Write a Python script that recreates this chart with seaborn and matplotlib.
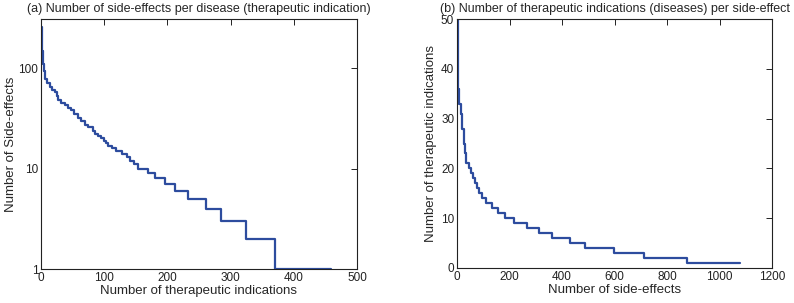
import numpy as np
import pandas as pd
import matplotlib
matplotlib.use('Agg')
import matplotlib.pyplot as plt
import seaborn as sns

# (a) side-effects per disease, rank-ordered (step starts)
left_rank = [1, 2, 3, 4, 6, 9, 14, 18, 22, 25, 27, 32, 38, 43, 48, 53, 58, 63, 69, 75, 82, 86, 90, 95,
             100, 103, 106, 112, 119, 128, 136, 141, 147, 153, 170, 180, 196, 212, 233, 261, 285, 324, 371, 459]
left_count = [260, 150, 110, 95, 79, 72, 65, 61, 58, 53, 48, 45, 43, 40, 38, 35, 32, 30, 27, 26, 24, 22, 21, 20,
              19, 18, 17, 16, 15, 14, 13, 12, 11, 10, 9, 8, 7, 6, 5, 4, 3, 2, 1, 1]

# (b) diseases per side-effect, rank-ordered (step starts)
right_rank = [1, 2, 4, 8, 14, 20, 27, 32, 36, 45, 52, 60, 68, 75, 84, 95, 112, 135, 155, 181,
              219, 266, 311, 361, 430, 487, 599, 713, 877, 1077]
right_count = [50, 45, 36, 33, 31, 28, 25, 23, 21, 20, 19, 18, 17, 16, 15, 14, 13, 12, 11, 10,
               9, 8, 7, 6, 5, 4, 3, 2, 1, 1]

dfa = pd.DataFrame({'rank': left_rank, 'n': left_count})
dfb = pd.DataFrame({'rank': right_rank, 'n': right_count})

sns.set_style('white')
plt.rcParams['font.family'] = ['Liberation Sans', 'DejaVu Sans']
plt.rcParams.update({'font.size': 8})
col = '#2d4c9e'

fig = plt.figure(figsize=(7.94, 3.03), dpi=100)
ax1 = fig.add_axes([41/794, 1-269/303, 316/794, 250/303])
ax2 = fig.add_axes([457/794, 1-268/303, 315/794, 249/303])

sns.lineplot(data=dfa, x='rank', y='n', ax=ax1, color=col, lw=1.6,
             drawstyle='steps-post', estimator=None, sort=False)
ax1.set_yscale('log')
ax1.set_xlim(0, 500)
ax1.set_ylim(1, 310)
ax1.set_yticks([1, 10, 100])
ax1.set_yticklabels(['1', '10', '100'])
ax1.yaxis.set_minor_locator(matplotlib.ticker.NullLocator())
ax1.set_xticks(np.arange(0, 501, 100))
ax1.set_xlabel('Number of therapeutic indications', fontsize=9.5, labelpad=1)
ax1.set_ylabel('Number of Side-effects', fontsize=9.5, labelpad=1)
ax1.set_title('(a) Number of side-effects per disease (therapeutic indication)', fontsize=9, pad=5)

sns.lineplot(data=dfb, x='rank', y='n', ax=ax2, color=col, lw=1.6,
             drawstyle='steps-post', estimator=None, sort=False)
ax2.set_xlim(0, 1200)
ax2.set_ylim(0, 50)
ax2.set_xticks(np.arange(0, 1201, 200))
ax2.set_yticks(np.arange(0, 51, 10))
ax2.set_xlabel('Number of side-effects', fontsize=9.5, labelpad=1)
ax2.set_ylabel('Number of therapeutic indications', fontsize=9.5, labelpad=3)
ax2.set_title('(b) Number of therapeutic indications (diseases) per side-effect', fontsize=9, pad=5)

for ax in (ax1, ax2):
    for s in ax.spines.values():
        s.set_color('#222222')
        s.set_linewidth(0.8)
    ax.tick_params(direction='in', length=4, width=0.7, top=True, right=True,
                   labelsize=8.5, pad=2, colors='#222222')

fig.savefig('out.png', dpi=100)
